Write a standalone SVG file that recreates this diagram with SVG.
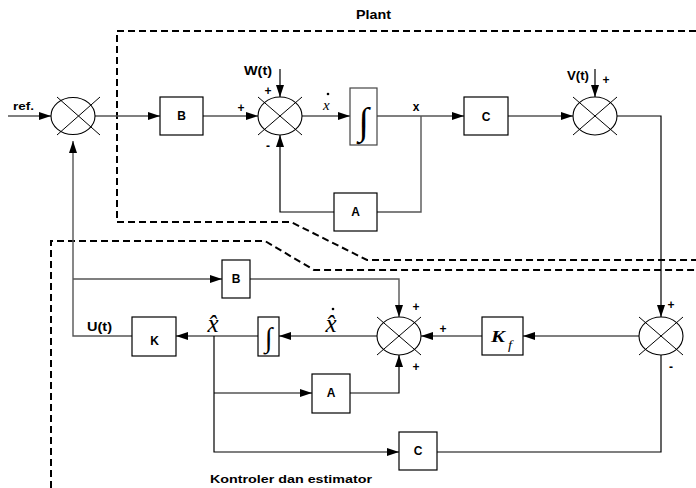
<svg xmlns="http://www.w3.org/2000/svg" width="696" height="488" viewBox="0 0 696 488">
<style>
.bg{fill:#fff}
.box{fill:#fff;stroke:#000;stroke-width:1.2}
.sum{fill:#fff;stroke:#000;stroke-width:1.1}
.x{stroke:#000;stroke-width:1}
.ln{fill:none;stroke:#000;stroke-width:1.2}
.lg{fill:none;stroke:#555;stroke-width:1.4}
.dash{fill:none;stroke:#000;stroke-width:2;stroke-dasharray:7,4}
.lb{font-family:"Liberation Sans",Arial,sans-serif;font-weight:bold;font-size:12px;fill:#000}
.sg{font-family:"Liberation Sans",Arial,sans-serif;font-weight:bold;font-size:12px;fill:#000;text-anchor:middle}
.mid{text-anchor:middle}
.it{font-family:"Liberation Serif","Times New Roman",serif;font-style:italic;fill:#000}
.int{font-family:"Liberation Serif","Times New Roman",serif;fill:#000;text-anchor:middle}
</style>
<defs>
<marker id="ah" markerUnits="userSpaceOnUse" markerWidth="12" markerHeight="10" viewBox="0 0 12 10" refX="12" refY="5" orient="auto">
<path d="M0,1 L12,5 L0,9 Z" fill="#000"/>
</marker>
</defs>
<rect class="bg" x="0" y="0" width="696" height="488"/>

<g id="boundaries">
<path class="dash" d="M696,31 H117 V222 H291 L367,260 H696"/>
<path class="dash" d="M51,488 V241 H265 L314,270 H696"/>
<text class="lb" x="356" y="19" textLength="35" lengthAdjust="spacingAndGlyphs">Plant</text>
<text class="lb" x="210" y="483" textLength="162" lengthAdjust="spacingAndGlyphs" style="font-size:11px">Kontroler dan estimator</text>
</g>

<g id="connectors">
<line class="ln" x1="8" y1="116" x2="51" y2="116" marker-end="url(#ah)"/>
<line class="lg" x1="95" y1="116" x2="160" y2="116" marker-end="url(#ah)"/>
<line class="ln" x1="203" y1="116" x2="258" y2="116" marker-end="url(#ah)"/>
<line class="ln" x1="280" y1="69" x2="280" y2="97" marker-end="url(#ah)"/>
<line class="ln" x1="302" y1="116" x2="350" y2="116" marker-end="url(#ah)"/>
<line class="ln" x1="377" y1="116" x2="464" y2="116" marker-end="url(#ah)"/>
<path class="lg" d="M421,116 V212 H377"/>
<path class="ln" d="M334,212 H280 V135" marker-end="url(#ah)"/>
<line class="ln" x1="508" y1="116" x2="573" y2="116" marker-end="url(#ah)"/>
<line class="ln" x1="595" y1="69" x2="595" y2="97" marker-end="url(#ah)"/>
<path class="ln" d="M617,116 H661 V317" marker-end="url(#ah)"/>
<line class="ln" x1="639" y1="336" x2="523" y2="336" marker-end="url(#ah)"/>
<line class="ln" x1="482" y1="336" x2="421" y2="336" marker-end="url(#ah)"/>
<line class="ln" x1="377" y1="336" x2="279" y2="336" marker-end="url(#ah)"/>
<line class="ln" x1="258" y1="336" x2="176" y2="336" marker-end="url(#ah)"/>
<path class="lg" d="M132,336 H73 V141" marker-end="url(#ah)"/>
<line class="lg" x1="73" y1="279" x2="222" y2="279" marker-end="url(#ah)"/>
<path class="lg" d="M250,279 H399 V317" marker-end="url(#ah)"/>
<path class="ln" d="M214,336 V452 H399" marker-end="url(#ah)"/>
<line class="ln" x1="214" y1="393" x2="312" y2="393" marker-end="url(#ah)"/>
<path class="ln" d="M350,393 H399 V355" marker-end="url(#ah)"/>
<path class="ln" d="M661,355 V452 H437"/>
</g>

<g id="J1">
<ellipse class="sum" cx="73" cy="116" rx="22" ry="18.5"/>
<line class="x" x1="57" y1="97" x2="100" y2="135"/>
<line class="x" x1="100" y1="97" x2="57" y2="135"/>
<text class="lb" x="13" y="110" style="font-size:11px" textLength="21" lengthAdjust="spacingAndGlyphs">ref.</text>
</g>

<g id="B1">
<rect class="box" x="160" y="97" width="43" height="38"/>
<text class="lb mid" x="181.5" y="120">B</text>
</g>

<g id="J2">
<ellipse class="sum" cx="280" cy="116" rx="22" ry="19"/>
<line class="x" x1="258" y1="97" x2="302" y2="135"/>
<line class="x" x1="302" y1="97" x2="258" y2="135"/>
<text class="lb" x="244" y="75" textLength="28" lengthAdjust="spacingAndGlyphs">W(t)</text>
<text class="sg" x="241" y="112">+</text>
<text class="sg" x="268" y="95">+</text>
<text class="sg" x="268" y="150">-</text>
</g>

<g id="xdot">
<text class="it" x="323" y="110" style="font-size:15px">x</text>
<circle cx="328" cy="94" r="1.3" fill="#000"/>
</g>

<g id="I1">
<rect class="box" x="350" y="88" width="27" height="57" style="stroke:#444"/>
<text class="int" x="363.5" y="134" style="font-size:38px">∫</text>
</g>

<g id="xlabel">
<text class="lb mid" x="416" y="111">x</text>
</g>

<g id="A1">
<rect class="box" x="334" y="193" width="43" height="38"/>
<text class="lb mid" x="355.5" y="216">A</text>
</g>

<g id="C1">
<rect class="box" x="464" y="97" width="44" height="38"/>
<text class="lb mid" x="486" y="121">C</text>
</g>

<g id="J3">
<ellipse class="sum" cx="595" cy="116" rx="22" ry="19"/>
<line class="x" x1="573" y1="97" x2="617" y2="135"/>
<line class="x" x1="617" y1="97" x2="573" y2="135"/>
<text class="lb" x="567" y="80" textLength="22" lengthAdjust="spacingAndGlyphs">V(t)</text>
<text class="sg" x="606" y="84">+</text>
</g>

<g id="J6">
<ellipse class="sum" cx="661" cy="336" rx="22" ry="19"/>
<line class="x" x1="639" y1="317" x2="683" y2="355"/>
<line class="x" x1="683" y1="317" x2="639" y2="355"/>
<text class="sg" x="671" y="309">+</text>
<text class="sg" x="671" y="371">-</text>
</g>

<g id="Kf">
<rect class="box" x="482" y="317" width="41" height="38"/>
<text class="it" x="491" y="342" style="font-size:17px;font-weight:bold" textLength="18" lengthAdjust="spacingAndGlyphs">K<tspan x="508" y="349" style="font-size:12px;font-weight:normal">f</tspan></text>
</g>

<g id="J5">
<ellipse class="sum" cx="399" cy="336" rx="22" ry="19"/>
<line class="x" x1="377" y1="317" x2="421" y2="355"/>
<line class="x" x1="421" y1="317" x2="377" y2="355"/>
<text class="sg" x="416" y="311">+</text>
<text class="sg" x="443" y="333">+</text>
<text class="sg" x="416" y="371">+</text>
</g>

<g id="xhatdot">
<text class="it mid" x="331" y="332" style="font-size:25px">x̂</text>
<circle cx="333" cy="309" r="1.3" fill="#000"/>
</g>

<g id="I2">
<rect class="box" x="258" y="317" width="21" height="39"/>
<text class="int" x="268.5" y="347" style="font-size:28px">∫</text>
</g>

<g id="xhat">
<text class="it mid" x="213" y="332" style="font-size:25px">x̂</text>
</g>

<g id="K">
<rect class="box" x="132" y="317" width="44" height="39"/>
<text class="lb mid" x="154.5" y="345">K</text>
<text class="lb" x="87" y="331" textLength="25" lengthAdjust="spacingAndGlyphs">U(t)</text>
</g>

<g id="B2">
<rect class="box" x="222" y="260" width="28" height="38"/>
<text class="lb mid" x="236" y="283">B</text>
</g>

<g id="A2">
<rect class="box" x="312" y="374" width="38" height="39"/>
<text class="lb mid" x="331" y="397">A</text>
</g>

<g id="C2">
<rect class="box" x="399" y="432" width="38" height="38"/>
<text class="lb mid" x="418" y="455">C</text>
</g>
</svg>
